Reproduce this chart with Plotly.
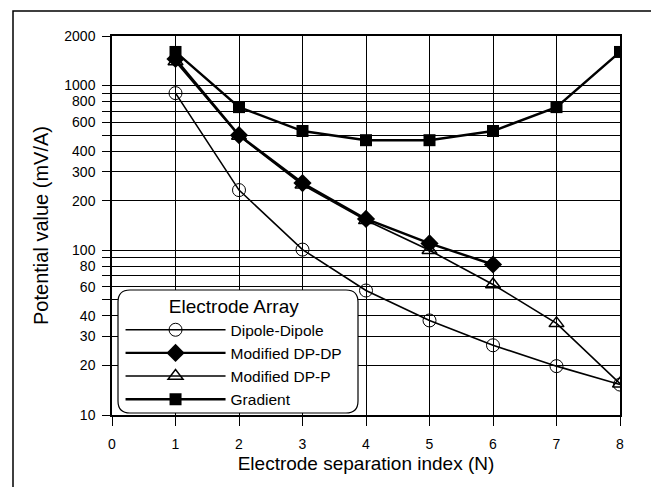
import plotly.graph_objects as go

x_n = [1, 2, 3, 4, 5, 6, 7, 8]
x_dpdp = [1, 2, 3, 4, 5, 6]
dipole_dipole = [900, 232, 101, 57, 37.5, 26.5, 19.8, 15.3]
modified_dp_dp = [1450, 500, 256, 155, 110, 82]
modified_dp_p = [1400, 495, 250, 152, 100, 62, 36, 15.5]
gradient = [1600, 740, 530, 466, 466, 530, 740, 1600]

y_grid = [10, 20, 30, 40, 50, 60, 70, 80, 90, 100, 200, 300, 400, 500, 600, 700, 800, 900, 1000, 2000]
y_labels = {10, 20, 30, 40, 60, 80, 100, 200, 300, 400, 600, 800, 1000, 2000}
x_ticks = [0, 1, 2, 3, 4, 5, 6, 7, 8]

FONT = "Liberation Sans, Arial, sans-serif"

fig = go.Figure()
fig.add_trace(go.Scatter(x=x_n, y=dipole_dipole, name="Dipole-Dipole", mode="lines+markers",
                         line=dict(color="black", width=1.6),
                         marker=dict(symbol="circle-open", size=13, color="black", line=dict(width=1))))
fig.add_trace(go.Scatter(x=x_dpdp, y=modified_dp_dp, name="Modified DP-DP", mode="lines+markers",
                         line=dict(color="black", width=2.4),
                         marker=dict(symbol="diamond", size=14, color="black")))
fig.add_trace(go.Scatter(x=x_n, y=modified_dp_p, name="Modified DP-P", mode="lines+markers",
                         line=dict(color="black", width=1.6),
                         marker=dict(symbol="triangle-up-open", size=13, color="black", line=dict(width=1.5))))
fig.add_trace(go.Scatter(x=x_n, y=gradient, name="Gradient", mode="lines+markers",
                         line=dict(color="black", width=2.4),
                         marker=dict(symbol="square", size=12, color="black")))

L, R, T, B = 112, 31, 36, 72
pw, ph = 651 - L - R, 487 - T - B

def px_to_paper(px, py):
    return (px - L) / pw, (487 - B - py) / ph

# outer frame
x0, y0 = px_to_paper(13, 11)
x1, y1 = px_to_paper(662, 500)
fig.add_shape(type="rect", xref="paper", yref="paper", x0=x0, y0=y1, x1=x1, y1=y0,
              line=dict(color="black", width=1.5), layer="below")

# rounded legend box
lx0, ly0 = px_to_paper(118, 290)
lx1, ly1 = px_to_paper(358, 413)
rx, ry = 12 / pw, 12 / ph
path = (f"M{lx0+rx},{ly0} L{lx1-rx},{ly0} Q{lx1},{ly0} {lx1},{ly0-ry} "
        f"L{lx1},{ly1+ry} Q{lx1},{ly1} {lx1-rx},{ly1} L{lx0+rx},{ly1} "
        f"Q{lx0},{ly1} {lx0},{ly1+ry} L{lx0},{ly0-ry} Q{lx0},{ly0} {lx0+rx},{ly0} Z")
fig.add_shape(type="path", xref="paper", yref="paper", path=path,
              fillcolor="white", line=dict(color="black", width=1.2), layer="above")

fig.update_layout(
    width=651, height=487,
    margin=dict(l=L, r=R, t=T, b=B),
    paper_bgcolor="white", plot_bgcolor="white",
    font=dict(family=FONT, color="black", size=14),
    legend=dict(
        x=lx0 + 0.005, y=ly0 + 0.004, xanchor="left", yanchor="top",
        bgcolor="rgba(0,0,0,0)", borderwidth=0,
        title=dict(text="Electrode Array", side="top center", font=dict(size=19)),
        font=dict(size=15.5), itemwidth=100, tracegroupgap=0,
    ),
    xaxis=dict(
        range=[0, 8], tickvals=x_ticks, ticks="outside", ticklen=9, tickcolor="black",
        ticklabelstandoff=6,
        showline=True, mirror=True, linecolor="black", linewidth=1.5,
        showgrid=True, gridcolor="black", gridwidth=0.8, zeroline=False,
        title=dict(text="Electrode separation index (N)", font=dict(size=19), standoff=6),
        tickfont=dict(size=14),
    ),
    yaxis=dict(
        type="log", range=[1, 3.30103],
        tickvals=y_grid, ticktext=[str(v) if v in y_labels else "" for v in y_grid],
        ticks="outside", ticklen=8, tickcolor="black", ticklabelstandoff=4,
        showline=True, mirror=True, linecolor="black", linewidth=1.5,
        showgrid=True, gridcolor="black", gridwidth=0.8,
        title=dict(text="Potential value (mV/A)", font=dict(size=20), standoff=10),
        tickfont=dict(size=14),
    ),
)

fig.write_html("out.html")
